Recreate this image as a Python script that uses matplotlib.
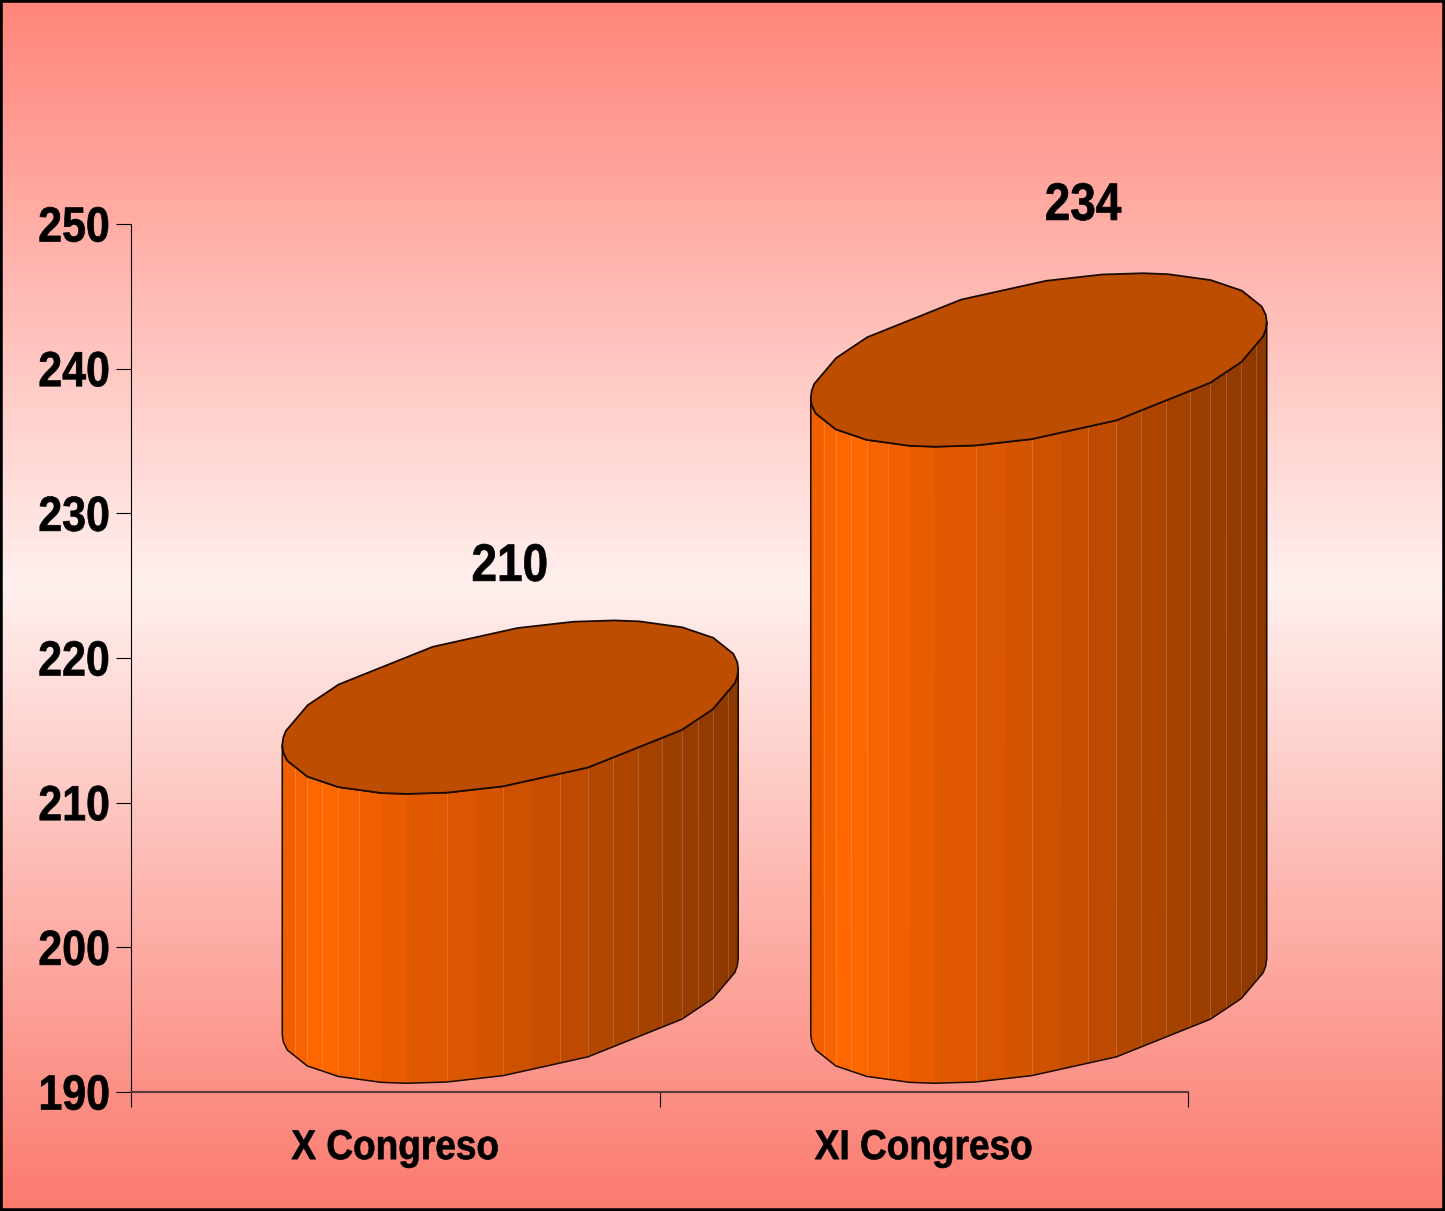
import numpy as np
import matplotlib
matplotlib.use("Agg")
import matplotlib.pyplot as plt
import matplotlib.patheffects as pe
from matplotlib.colors import LinearSegmentedColormap, to_rgb
from matplotlib.patches import Polygon, Rectangle
from matplotlib.transforms import Affine2D

categories = ["X Congreso", "XI Congreso"]
values = [210, 234]
y_ticks = [190, 200, 210, 220, 230, 240, 250]

W, H = 1445, 1211
plt.rcParams["font.family"] = ["Liberation Sans", "DejaVu Sans"]


class Narrow(pe.AbstractPathEffect):
    """Condense glyphs horizontally, keeping the text's anchor in place."""
    def __init__(self, sx, anchor="center", stroke=0.5):
        super().__init__()
        self.sx, self.anchor, self.stroke = sx, anchor, stroke

    def draw_path(self, renderer, gc, tpath, affine, rgbFace=None):
        xs = tpath.vertices[:, 0]
        x0 = xs.max() if self.anchor == "right" else (xs.min() + xs.max()) / 2
        t = Affine2D().translate(-x0, 0).scale(self.sx, 1).translate(x0, 0)
        g = renderer.new_gc()
        g.copy_properties(gc)
        g.set_linewidth(self.stroke)
        g.set_foreground("black")
        renderer.draw_path(g, tpath, t + affine, rgbFace)
        g.restore()


fig = plt.figure(figsize=(W / 100, H / 100), dpi=100)

# background gradient
bg = fig.add_axes([0, 0, 1, 1], zorder=0)
bg.set_axis_off()
stops_y = np.array([0, 585, 1211]) / 1211
stops_c = np.array([to_rgb("#FF857A"), to_rgb("#FFF0EE"), to_rgb("#FB7A6E")])
yy = np.linspace(0, 1, 200)
grad = np.stack([np.interp(yy, stops_y, stops_c[:, k]) for k in range(3)], axis=1)[:, None, :]
bg.imshow(grad, aspect="auto", extent=[0, 1, 1, 0], interpolation="nearest")
bg.set_xlim(0, 1)
bg.set_ylim(1, 0)

ax = fig.add_axes([131 / W, 1 - 1092 / H, (1188 - 131) / W, (1092 - 224) / H], zorder=1)
ax.patch.set_alpha(0)
ax.set_xlim(-0.5, 1.5)
ax.set_ylim(190, 250)

# cylinder geometry (category / value units)
DX, DY = 0.2176, 6.6      # depth shift of the cylinder axis
A, B, C = 0.4314, 5.39, 2.63  # half width, minor term, tilt
CX = 510.25
HALF = 228.25
FACETS = np.array([282, 287, 295, 307, 322, 338, 359, 381, 406, 447, 476, 503, 532,
                   560, 588, 613, 638, 662, 682, 698, 713, 728, 735, 738.5])
OUTLINE = np.array([282, 283, 287, 307, 338, 381, 406, 447, 503, 588, 682, 713, 735, 737.5, 738.5])
LIT = [295, 307, 322, 338, 359, 447, 503, 560, 588, 613, 638, 662, 682, 698, 713, 728]
u_f = np.clip((FACETS - CX) / HALF, -1, 1)
u_o = np.clip((OUTLINE - CX) / HALF, -1, 1)
shade = LinearSegmentedColormap.from_list(
    "cyl",
    [(0.0, "#EC5E00"), (0.05, "#FA6400"), (0.09, "#FF6800"), (0.2, "#F05F00"),
     (0.3, "#E25900"), (0.5, "#D05200"), (0.7, "#B44700"), (0.85, "#9C3E00"), (1.0, "#8A3600")])


def front(uu):
    # front rim: chords between the outline vertices of the ellipse
    return np.interp(uu, u_o, C * u_o - B * np.sqrt(1 - u_o ** 2))


def back(uu):
    # back rim is the point reflection of the front rim
    return -front(-uu)


for i, v in enumerate(values):
    cx = i + DX
    xs = cx + A * u_f
    xo = cx + A * u_o
    top_c, bot_c = v + DY, 190 + DY
    for k in range(len(u_f) - 1):
        t = (u_f[k] + u_f[k + 1]) / 2 * 0.5 + 0.5
        col = shade(t)
        pts = [(xs[k], top_c + front(u_f[k])), (xs[k + 1], top_c + front(u_f[k + 1])),
               (xs[k + 1], bot_c + front(u_f[k + 1])), (xs[k], bot_c + front(u_f[k]))]
        ax.add_patch(Polygon(pts, closed=True, facecolor=col, edgecolor=col, lw=0.4, zorder=3, clip_on=False))
        if FACETS[k] in LIT:
            ax.plot([xs[k], xs[k]], [top_c + front(u_f[k]), bot_c + front(u_f[k])],
                    color="white", alpha=0.16, lw=0.7, zorder=3.5, clip_on=False)
    # silhouette of the side
    sx = np.r_[xo, xo[::-1]]
    sy = np.r_[top_c + front(u_o), (bot_c + front(u_o))[::-1]]
    ax.add_patch(Polygon(np.c_[sx, sy], closed=True, facecolor="none", edgecolor="#1a0a00",
                         lw=1.1, zorder=4, clip_on=False))
    # top face
    xb = (cx - A * u_o)
    yb = top_c + back(-u_o)
    tx = np.r_[xo, xb]
    ty = np.r_[top_c + front(u_o), yb]
    ax.add_patch(Polygon(np.c_[tx, ty], closed=True, facecolor="#BD4D00", edgecolor="#1a0a00",
                         lw=1.3, zorder=5, clip_on=False))

# value labels
for v, x, lift in zip(values, (0.2171, 1.3013), (16.3, 17.25)):
    ax.text(x, v + lift, str(v), ha="center", va="center", fontsize=38, fontweight="bold",
            color="black", path_effects=[Narrow(0.87)], zorder=6)

# axes
for s in ("top", "right"):
    ax.spines[s].set_visible(False)
ax.spines["left"].set_color("black")
ax.spines["left"].set_linewidth(0.8)
ax.spines["bottom"].set_color("#5A3838")
ax.spines["bottom"].set_linewidth(1.5)

ax.set_yticks(y_ticks)
ax.set_yticklabels([str(t) for t in y_ticks], fontsize=35.5, fontweight="bold")
ax.tick_params(axis="y", length=10.8, width=0.8, color="black", pad=4.2)
for lab in ax.get_yticklabels():
    lab.set_path_effects([Narrow(0.87, "right")])

ax.set_xticks([-0.5, 0.5, 1.5])
ax.set_xticklabels([])
ax.tick_params(axis="x", which="major", length=10.8, width=0.8, color="black")
ax.set_xticks([0, 1], minor=True)
ax.set_xticklabels(categories, minor=True, fontsize=30, fontweight="bold")
ax.tick_params(axis="x", which="minor", length=0, pad=26)
for lab in ax.get_xticklabels(minor=True):
    lab.set_path_effects([Narrow(0.888)])

# frame
fig.add_artist(Rectangle((0, 0), 1, 1, transform=fig.transFigure, fill=False,
                         edgecolor="black", lw=4, zorder=10))

fig.savefig("out.png", dpi=100)
